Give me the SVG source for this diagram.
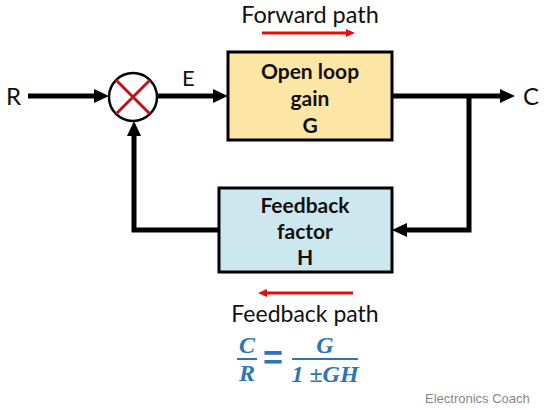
<svg xmlns="http://www.w3.org/2000/svg" width="550" height="410" viewBox="0 0 550 410">
  <style>
    .lbl { font-family: Lato, "Open Sans", "Liberation Sans", sans-serif; fill: #111; }
    .blk { font-family: Lato, "Open Sans", "Liberation Sans", sans-serif; font-weight: bold; font-size: 21px; fill: #111; text-anchor: middle; }
    .wire { fill: none; stroke: #000; stroke-width: 5; stroke-linejoin: miter; }
    .red { fill: none; stroke: #e01010; stroke-width: 3; }
    .math { font-family: "Liberation Serif", "DejaVu Serif", serif; font-weight: bold; font-style: italic; font-size: 24px; fill: #2e75b6; text-anchor: middle; }
  </style>
  <defs>
    <marker id="ah" markerUnits="userSpaceOnUse" markerWidth="16" markerHeight="16" refX="4" refY="8" orient="auto">
      <path d="M0,1 L15,8 L0,15 z" fill="#000"/>
    </marker>
    <marker id="rh" markerUnits="userSpaceOnUse" markerWidth="10" markerHeight="10" refX="2" refY="5" orient="auto">
      <path d="M0,1 L9,5 L0,9 z" fill="#e01010"/>
    </marker>
  </defs>
  <rect width="550" height="410" fill="#fff"/>

  <g id="connectors">
    <path class="wire" d="M28,96 H98" marker-end="url(#ah)"/>
    <path class="wire" d="M157,96 H217" marker-end="url(#ah)"/>
    <path class="wire" d="M392,96 H504" marker-end="url(#ah)"/>
    <path class="wire" d="M469,96 V230 H403" marker-end="url(#ah)"/>
    <path class="wire" d="M219,230 H134 V132" marker-end="url(#ah)"/>
  </g>

  <g id="labels">
    <text class="lbl" x="6" y="105" font-size="24">R</text>
    <text class="lbl" x="182" y="86" font-size="22">E</text>
    <text class="lbl" x="523" y="105" font-size="24">C</text>
    <text class="lbl" x="310" y="23" font-size="23.5" text-anchor="middle">Forward path</text>
    <path class="red" d="M262,33 H348" marker-end="url(#rh)"/>
    <path class="red" d="M353,293 H265" marker-end="url(#rh)"/>
    <text class="lbl" x="305" y="322" font-size="23" text-anchor="middle">Feedback path</text>
  </g>

  <g id="sum">
    <circle cx="133" cy="97" r="24" fill="#fff" stroke="#000" stroke-width="2.5"/>
    <path d="M116,80 L150,114 M150,80 L116,114" stroke="#c0141c" stroke-width="3"/>
  </g>

  <g id="G">
    <rect x="228" y="52" width="164" height="88" fill="#fde6a6" stroke="#000" stroke-width="3"/>
    <text class="blk" x="310" y="79">Open loop</text>
    <text class="blk" x="310" y="106">gain</text>
    <text class="blk" x="310" y="133">G</text>
  </g>

  <g id="H">
    <rect x="219" y="188" width="173" height="84" fill="#cde7ef" stroke="#000" stroke-width="3"/>
    <text class="blk" x="305" y="213">Feedback</text>
    <text class="blk" x="305" y="239">factor</text>
    <text class="blk" x="305" y="265">H</text>
  </g>

  <g id="formula">
    <text class="math" x="247" y="353">C</text>
    <line x1="237" y1="359" x2="257" y2="359" stroke="#2e75b6" stroke-width="2"/>
    <text class="math" x="247" y="381">R</text>
    <text x="273" y="369" font-family="'Liberation Sans', sans-serif" font-weight="bold" font-size="34" fill="#2e75b6" text-anchor="middle">=</text>
    <text class="math" x="325" y="353">G</text>
    <line x1="292" y1="359" x2="358" y2="359" stroke="#2e75b6" stroke-width="2"/>
    <text class="math" x="325" y="382">1 ±GH</text>
  </g>

  <text x="425" y="403" font-family="'Liberation Sans', Arial, sans-serif" font-size="13" fill="#888">Electronics Coach</text>
</svg>
